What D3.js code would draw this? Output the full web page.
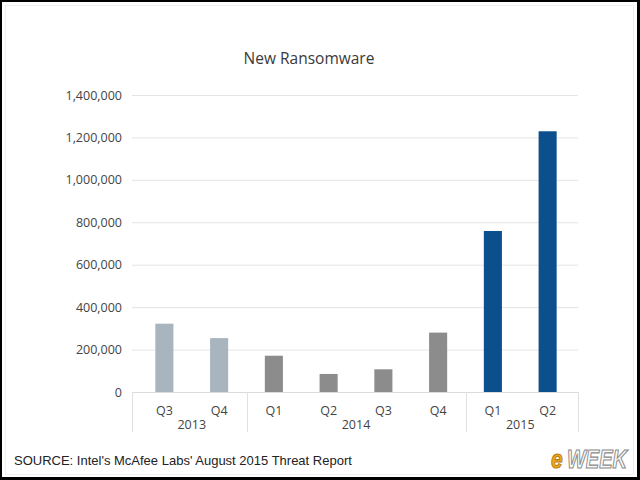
<!DOCTYPE html>
<html>
<head>
<meta charset="utf-8">
<script src="https://cdn.jsdelivr.net/npm/d3@7"></script>
<style>
  html, body { margin: 0; padding: 0; background: #000; }
  svg { display: block; }
</style>
</head>
<body>
<svg id="chart" width="640" height="480"></svg>
<script>
// quarters, years and values
var quarters = ["Q3", "Q4", "Q1", "Q2", "Q3", "Q4", "Q1", "Q2"];
var years = ["2013", "2013", "2014", "2014", "2014", "2014", "2015", "2015"];
var values = [322000, 254000, 171000, 85000, 107000, 280000, 759000, 1229000];
var yTicks = [0, 200000, 400000, 600000, 800000, 1000000, 1200000, 1400000];
var yearColors = { "2013": "#a8b5be", "2014": "#8c8c8c", "2015": "#0b4f8c" };

var svg = d3.select("#chart");

// frame
svg.append("rect")
    .attr("x", 0).attr("y", 0)
    .attr("width", 640).attr("height", 480)
    .attr("fill", "#000");
svg.append("rect")
    .attr("x", 2).attr("y", 2)
    .attr("width", 635).attr("height", 475)
    .attr("fill", "#fff");
svg.append("rect")
    .attr("x", 5.5).attr("y", 5.5)
    .attr("width", 628).attr("height", 469)
    .attr("fill", "none")
    .attr("stroke", "#f0f0f0");

var x = d3.scaleBand()
    .domain(d3.range(values.length))
    .range([137, 575])
    .padding(0);

var y = d3.scaleLinear()
    .domain([0, 1400000])
    .range([392, 95]);

var barWidth = x.bandwidth() * 0.33;
var gridLeft = 132, gridRight = 578;

// title
svg.append("text")
    .attr("x", 309)
    .attr("y", 64)
    .attr("text-anchor", "middle")
    .attr("font-family", "Open Sans, sans-serif")
    .attr("font-size", 15.5)
    .attr("fill", "#3a3a3a")
    .text("New Ransomware");

// gridlines + y labels
var yAxis = d3.axisLeft(y)
    .tickValues(yTicks)
    .tickSize(-(gridRight - gridLeft))
    .tickPadding(10)
    .tickFormat(d3.format(","));

var gy = svg.append("g")
    .attr("transform", "translate(" + gridLeft + ",0)")
    .call(yAxis);
gy.select(".domain").remove();
gy.selectAll(".tick line")
    .attr("stroke", "#e4e4e4")
    .attr("stroke-width", 1);
gy.selectAll(".tick text")
    .attr("font-family", "Open Sans, sans-serif")
    .attr("font-size", 12.5)
    .attr("fill", "#444");

// category axis frame
svg.append("line")
    .attr("x1", gridLeft).attr("x2", gridRight)
    .attr("y1", y(0) + 0.5).attr("y2", y(0) + 0.5)
    .attr("stroke", "#dcdcdc");

// year groups
var yearGroups = [];
years.forEach(function(yr, i) {
    var last = yearGroups[yearGroups.length - 1];
    if (last && last.year === yr) {
        last.end = i;
    } else {
        yearGroups.push({ year: yr, start: i, end: i });
    }
});

var seps = [gridLeft];
yearGroups.slice(1).forEach(function(g) { seps.push(x(g.start)); });
seps.push(gridRight);

svg.selectAll(".sep")
    .data(seps)
    .enter().append("line")
    .attr("class", "sep")
    .attr("x1", function(d) { return Math.round(d) + 0.5; })
    .attr("x2", function(d) { return Math.round(d) + 0.5; })
    .attr("y1", y(0))
    .attr("y2", 432)
    .attr("stroke", "#e0e0e0");

// bars
svg.selectAll(".bar")
    .data(values)
    .enter().append("rect")
    .attr("class", "bar")
    .attr("x", function(d, i) { return x(i) + (x.bandwidth() - barWidth) / 2; })
    .attr("y", function(d) { return y(d); })
    .attr("width", barWidth)
    .attr("height", function(d) { return y(0) - y(d); })
    .attr("fill", function(d, i) { return yearColors[years[i]]; });

// quarter labels
svg.selectAll(".qlab")
    .data(quarters)
    .enter().append("text")
    .attr("class", "qlab")
    .attr("x", function(d, i) { return x(i) + x.bandwidth() / 2; })
    .attr("y", 415)
    .attr("text-anchor", "middle")
    .attr("font-family", "Open Sans, sans-serif")
    .attr("font-size", 12.5)
    .attr("fill", "#444")
    .text(function(d) { return d; });

// year labels
svg.selectAll(".ylab")
    .data(yearGroups)
    .enter().append("text")
    .attr("class", "ylab")
    .attr("x", function(g) { return (x(g.start) + x(g.end) + x.bandwidth()) / 2; })
    .attr("y", 429)
    .attr("text-anchor", "middle")
    .attr("font-family", "Open Sans, sans-serif")
    .attr("font-size", 12.5)
    .attr("fill", "#444")
    .text(function(g) { return g.year; });

// source note
svg.append("text")
    .attr("x", 14)
    .attr("y", 465)
    .attr("font-family", "Liberation Sans, Arial, sans-serif")
    .attr("font-size", 13)
    .attr("fill", "#222")
    .text("SOURCE: Intel's McAfee Labs' August 2015 Threat Report");

// eWEEK mark, drawn as two pieces side by side, stretched tall
var logo = svg.append("g")
    .attr("transform", "translate(551,468) scale(1,1.25)")
    .attr("font-family", "Liberation Sans, sans-serif")
    .attr("font-weight", "bold")
    .attr("font-style", "italic");
logo.append("text")
    .attr("x", 0)
    .attr("y", 0)
    .attr("font-size", 21)
    .attr("fill", "#f0a818")
    .attr("stroke", "#b87a10")
    .attr("stroke-width", 0.8)
    .text("e");
logo.append("text")
    .attr("x", 16)
    .attr("y", 0)
    .attr("font-size", 20)
    .attr("fill", "#fafafa")
    .attr("stroke", "#8a8a8a")
    .attr("stroke-width", 0.9)
    .text("WEEK");
</script>
</body>
</html>
